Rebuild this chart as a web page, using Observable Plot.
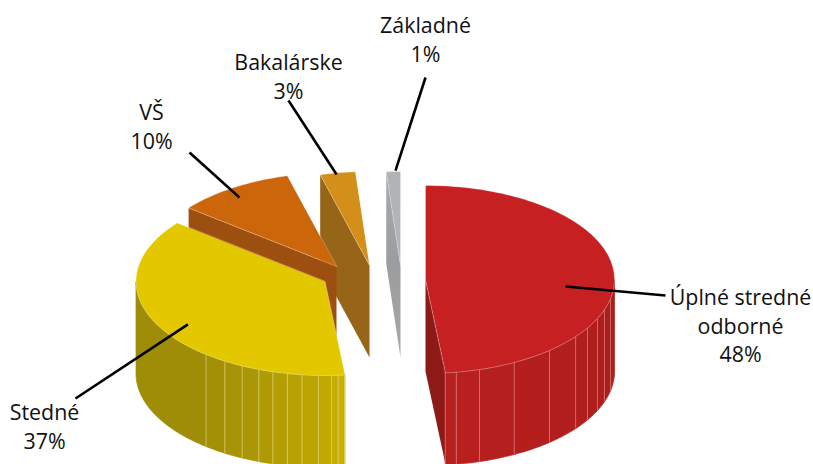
<!DOCTYPE html>
<html>
<head>
<meta charset="utf-8">
<script src="https://cdn.jsdelivr.net/npm/d3@7"></script>
<script src="https://cdn.jsdelivr.net/npm/@observablehq/plot@0.6"></script>
<style>html,body{margin:0;padding:0;background:#fff}svg{display:block}</style>
</head>
<body>
<div id="chart"></div>
<script>
// data
const categories = ["Úplné stredné\nodborné", "Stedné", "VŠ", "Bakalárske", "Základné"];
const shares = [48.3, 37.4, 10.1, 3.0, 1.2];
const shareLabels = ["48%", "37%", "10%", "3%", "1%"];
// wall facet boundaries, in degrees clockwise from the top of the pie
const redFacets = [90, 101.7, 108.7, 114.5, 121, 127.4, 139, 152, 163.4, 170.6, 174];
const yellowFacets = [174, 176, 178, 182, 187, 191.5, 196, 200.5, 206, 212, 219, 270];

// appearance
const topColors = ["#c72022", "#e3c800", "#cb660b", "#d48f1a", "#b2b3b5"];
const faceColors = ["#8e1a17", null, "#9d4f10", "#966518", "url(#greyFace)"];
const centers = [[425, 279], [324.5, 281], [336, 266], [369, 265], [400, 265]];
const rx = 189, ry = 94, depth = 92;
const leaderPolar = [[95.7, 0.745], [237.8, 0.857], [325, 0.895], [349.8, 0.984], [358.5, 1.01]];
const leaderEnds = [[665, 295], [75, 398], [189, 152], [288, 100], [425, 77]];
const labelPos = [[740, 324], [44, 425], [151, 125], [288, 75], [425, 38]];

const deg = Math.PI / 180;
const at = (i, a, f = 1, dz = 0) => ({
  x: centers[i][0] + f * rx * Math.sin(a * deg),
  y: centers[i][1] - f * ry * Math.cos(a * deg) + dz
});

let acc = 0;
const slices = shares.map((s, i) => {
  const a0 = acc / 100 * 360; acc += s;
  return {i, a0, a1: acc / 100 * 360};
});

const arcPts = (i, a0, a1, dz = 0) => {
  const n = Math.max(2, Math.ceil((a1 - a0) / 1.5));
  return d3.range(n + 1).map(k => at(i, a0 + (a1 - a0) * k / n, 1, dz));
};
const poly = (pts, fill, stroke = "none") =>
  Plot.line(pts, {x: "x", y: "y", curve: "linear-closed", fill, stroke, strokeWidth: 0.7});
const topFace = ({i, a0, a1}) =>
  poly([{x: centers[i][0], y: centers[i][1]}, ...arcPts(i, a0, a1)], topColors[i], "#ffffff66");
const cutFace = (i, a) => poly([
  {x: centers[i][0], y: centers[i][1]}, at(i, a),
  at(i, a, 1, depth), {x: centers[i][0], y: centers[i][1] + depth}
], faceColors[i]);
const wall = (i, facets, shade) => facets.slice(0, -1).map((a, k) =>
  poly([...arcPts(i, a, facets[k + 1]), ...arcPts(i, a, facets[k + 1], depth).reverse()],
       shade(k / (facets.length - 2)), shade(k / (facets.length - 2))));
const seams = (i, facets, color) => Plot.link(facets.map(a => ({a})), {
  x1: d => at(i, d.a).x, y1: d => at(i, d.a).y,
  x2: d => at(i, d.a, 1, depth).x, y2: d => at(i, d.a, 1, depth).y,
  stroke: color, strokeWidth: 1, strokeOpacity: 0.55
});

const greyGradient = () => {
  const svgNS = "http://www.w3.org/2000/svg";
  const defs = document.createElementNS(svgNS, "defs");
  defs.innerHTML = `<linearGradient id="greyFace" gradientUnits="userSpaceOnUse" x1="0" y1="171" x2="0" y2="357">
    <stop offset="0" stop-color="#a9aaac"/><stop offset="0.5" stop-color="#9b9c9e"/><stop offset="1" stop-color="#a8a9ab"/></linearGradient>`;
  return defs;
};

const leaders = slices.map(({i}) => {
  const [a, f] = leaderPolar[i];
  const p = at(i, a, f);
  return {x1: p.x, y1: p.y, x2: leaderEnds[i][0], y2: leaderEnds[i][1]};
});
const labels = categories.map((c, i) => ({text: c + "\n" + shareLabels[i], x: labelPos[i][0], y: labelPos[i][1]}));

const redShade = d3.interpolateRgb("#ab1e1c", "#b8201f");
const yellowShade = d3.interpolateRgb("#c8b000", "#9f8c07");

const chart = Plot.plot({
  width: 813, height: 464, margin: 0,
  x: {domain: [0, 813], range: [0, 813], axis: null},
  y: {domain: [0, 464], range: [0, 464], axis: null},
  style: {background: "#fff", overflow: "hidden"},
  marks: [
    greyGradient,
    // back slices first, so that nearer ones cover them
    cutFace(4, slices[4].a0), topFace(slices[4]),
    cutFace(3, slices[3].a0), topFace(slices[3]),
    cutFace(2, slices[2].a0), topFace(slices[2]),
    ...wall(1, yellowFacets, yellowShade), seams(1, yellowFacets.slice(0, -1), "#f3e9a0"),
    topFace(slices[1]),
    cutFace(0, slices[0].a1),
    ...wall(0, redFacets, redShade), seams(0, redFacets.slice(1), "#e8a0a0"),
    topFace(slices[0]),
    Plot.link(leaders, {x1: "x1", y1: "y1", x2: "x2", y2: "y2", stroke: "#000", strokeWidth: 2.6, strokeLinecap: "butt"}),
    Plot.text(labels, {x: "x", y: "y", text: "text", fontSize: 21.4, lineHeight: 1.34, fill: "#111", fontFamily: "'Open Sans'", textAnchor: "middle"})
  ]
});
document.getElementById("chart").append(chart);
</script>
</body>
</html>
